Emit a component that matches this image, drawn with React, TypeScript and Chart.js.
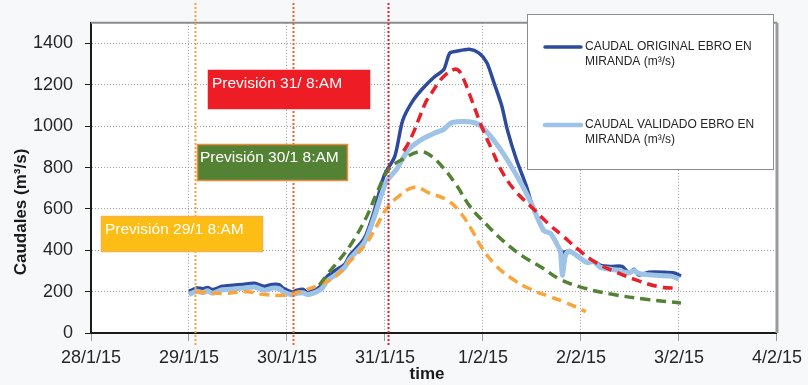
import React, { useEffect, useRef } from "react";
import { Chart, registerables } from "chart.js";

Chart.register(...registerables);

// x values are days since 28/1/15
const xTickLabels = ["28/1/15", "29/1/15", "30/1/15", "31/1/15", "1/2/15", "2/2/15", "3/2/15", "4/2/15"];
const yTicks = [0, 200, 400, 600, 800, 1000, 1200, 1400];

const originalDays = [1.0, 1.08, 1.14, 1.19, 1.24, 1.34, 1.45, 1.55, 1.67, 1.77, 1.85, 1.92, 1.96, 2.05, 2.1, 2.16, 2.21, 2.3, 2.36, 2.41, 2.5, 2.59, 2.64, 2.79, 2.89, 2.99, 3.1, 3.18, 3.28, 3.38, 3.5, 3.6, 3.66, 3.73, 3.86, 3.96, 4.04, 4.11, 4.19, 4.25, 4.34, 4.44, 4.5, 4.54, 4.62, 4.69, 4.76, 4.81, 4.88, 4.96, 5.06, 5.13, 5.2, 5.31, 5.42, 5.49, 5.54, 5.59, 5.69, 5.85, 5.95, 6.0, 6.02];
const originalValues = [202, 218, 214, 220, 210, 226, 231, 235, 240, 226, 235, 234, 217, 198, 207, 212, 197, 212, 235, 273, 305, 333, 375, 459, 590, 760, 854, 1027, 1120, 1180, 1237, 1274, 1353, 1362, 1372, 1353, 1307, 1213, 1101, 980, 840, 714, 620, 574, 495, 481, 425, 390, 397, 373, 341, 345, 327, 322, 322, 290, 308, 280, 294, 294, 290, 280, 275];

const validatedDays = [1.0, 1.08, 1.14, 1.19, 1.24, 1.34, 1.45, 1.55, 1.67, 1.77, 1.85, 1.92, 1.96, 2.05, 2.1, 2.16, 2.21, 2.3, 2.36, 2.41, 2.5, 2.59, 2.64, 2.79, 2.89, 3.01, 3.12, 3.24, 3.38, 3.52, 3.6, 3.68, 3.86, 3.96, 4.06, 4.16, 4.27, 4.4, 4.5, 4.54, 4.62, 4.69, 4.76, 4.79, 4.81, 4.84, 4.88, 4.96, 5.06, 5.13, 5.2, 5.36, 5.49, 5.54, 5.59, 5.72, 5.92, 6.0];
const validatedValues = [186, 202, 195, 204, 192, 209, 213, 217, 222, 207, 217, 215, 200, 185, 192, 195, 186, 199, 217, 252, 282, 318, 358, 438, 560, 728, 793, 887, 938, 970, 985, 1017, 1022, 1008, 961, 900, 821, 714, 620, 574, 495, 481, 425, 395, 280, 373, 397, 373, 341, 345, 317, 305, 290, 302, 288, 280, 275, 261];

const forecast29Days = [1.07, 1.34, 1.59, 1.75, 1.96, 2.06, 2.2, 2.33, 2.5, 2.64, 2.81, 2.91, 3.01, 3.12, 3.3, 3.45, 3.63, 3.76, 3.89, 3.99, 4.13, 4.3, 4.47, 4.67, 4.81, 5.05];
const forecast29Values = [200, 191, 200, 187, 182, 191, 210, 233, 275, 345, 434, 513, 597, 653, 705, 677, 644, 588, 495, 411, 327, 261, 215, 177, 154, 103];

const forecast30Days = [2.33, 2.43, 2.64, 2.81, 2.91, 3.04, 3.18, 3.35, 3.45, 3.58, 3.73, 3.87, 4.03, 4.2, 4.4, 4.6, 4.78, 5.05, 5.32, 5.66, 6.02];
const forecast30Values = [232, 294, 420, 560, 670, 793, 840, 877, 863, 807, 714, 610, 527, 448, 373, 317, 261, 215, 187, 163, 145];

const forecast31Days = [3.19, 3.23, 3.3, 3.35, 3.42, 3.47, 3.55, 3.6, 3.7, 3.75, 3.8, 3.89, 3.99, 4.09, 4.2, 4.34, 4.5, 4.67, 4.81, 4.98, 5.15, 5.36, 5.56, 5.79, 6.0];
const forecast31Values = [880, 910, 980, 1040, 1120, 1157, 1213, 1241, 1274, 1270, 1230, 1120, 994, 887, 775, 681, 607, 527, 471, 401, 341, 294, 257, 224, 215];

const forecastStartDays = [1.066, 2.06, 3.03];
const forecastLabels = ["Previsión 29/1 8:AM", "Previsión 30/1 8:AM", "Previsión 31/ 8:AM"];
const legendLabels = [["CAUDAL ORIGINAL EBRO EN", "MIRANDA (m³/s)"], ["CAUDAL VALIDADO EBRO EN", "MIRANDA (m³/s)"]];

const toPoints = (days: number[], vals: number[]) => days.map((d, i) => ({ x: d, y: vals[i] }));

const C_DARK = "#2e4a9c";
const C_LIGHT = "#9dc3e6";
const C_RED = "#e8202a";
const C_GREEN = "#548235";
const C_ORANGE = "#f9a53c";
const FONT = "'Liberation Sans', Arial, sans-serif";

const overlayPlugin = {
  id: "overlay",
  beforeDraw(chart: any) {
    const { ctx, chartArea } = chart;
    ctx.save();
    ctx.fillStyle = "#ffffff";
    ctx.fillRect(chartArea.left, chartArea.top, chartArea.right - chartArea.left, chartArea.bottom - chartArea.top);
    ctx.restore();
  },
  afterDatasetsDraw(chart: any) {
    const { ctx, chartArea, scales } = chart;
    const xs = scales.x;
    ctx.save();
    // top and right border
    ctx.strokeStyle = "#8c8c8c";
    ctx.lineWidth = 2;
    ctx.beginPath();
    ctx.moveTo(chartArea.left, chartArea.top);
    ctx.lineTo(chartArea.right, chartArea.top);
    ctx.stroke();
    ctx.strokeStyle = "#9a9a9a";
    ctx.lineWidth = 3;
    ctx.beginPath();
    ctx.moveTo(chartArea.right, chartArea.top);
    ctx.lineTo(chartArea.right, chartArea.bottom);
    ctx.stroke();

    // forecast start dotted lines
    const lineColors = ["#f7a33c", "#f2602c", "#e8202a"];
    forecastStartDays.forEach((d, i) => {
      const px = Math.round(xs.getPixelForValue(d)) + 0.5;
      ctx.strokeStyle = lineColors[i];
      ctx.lineWidth = 2;
      ctx.setLineDash([2, 2]);
      ctx.beginPath();
      ctx.moveTo(px, 3);
      ctx.lineTo(px, 346);
      ctx.stroke();
    });
    ctx.setLineDash([]);

    // annotation boxes
    const boxes = [
      { x: 101, y: 216, w: 162, h: 36, fill: "#fcbd14", border: "#f8b04c", label: forecastLabels[0], tx: 105 },
      { x: 197, y: 144, w: 151, h: 37, fill: C_GREEN, border: "#f4883a", label: forecastLabels[1], tx: 200 },
      { x: 208, y: 70, w: 162, h: 39, fill: "#ee1c25", border: "#ee1c25", label: forecastLabels[2], tx: 212 },
    ];
    ctx.font = `15.5px ${FONT}`;
    boxes.forEach((b) => {
      ctx.fillStyle = b.fill;
      ctx.fillRect(b.x, b.y, b.w, b.h);
      ctx.strokeStyle = b.border;
      ctx.lineWidth = 1.5;
      ctx.strokeRect(b.x + 0.5, b.y + 0.5, b.w - 1, b.h - 1);
      ctx.fillStyle = "#ffffff";
      ctx.textAlign = "left";
      ctx.textBaseline = "middle";
      ctx.fillText(b.label, b.tx, b.y + 14);
    });

    // legend
    ctx.fillStyle = "#ffffff";
    ctx.fillRect(527, 14, 247, 156);
    ctx.strokeStyle = "#8c8c8c";
    ctx.lineWidth = 1;
    ctx.strokeRect(527.5, 14.5, 246, 155);
    const legendItems = [
      { y: 47, color: C_DARK, width: 3.5 },
      { y: 125, color: C_LIGHT, width: 4.5 },
    ];
    ctx.font = `12px ${FONT}`;
    legendItems.forEach((it, i) => {
      ctx.strokeStyle = it.color;
      ctx.lineWidth = it.width;
      ctx.lineCap = "round";
      ctx.beginPath();
      ctx.moveTo(545, it.y);
      ctx.lineTo(581, it.y);
      ctx.stroke();
      ctx.fillStyle = "#262626";
      ctx.textAlign = "left";
      ctx.textBaseline = "middle";
      ctx.fillText(legendLabels[i][0], 585, it.y);
      ctx.fillText(legendLabels[i][1], 585, it.y + 15);
    });

    // axis titles
    ctx.fillStyle = "#1a1a1a";
    ctx.font = `bold 17px ${FONT}`;
    ctx.textAlign = "center";
    ctx.textBaseline = "middle";
    ctx.fillText("time", 427, 374);
    ctx.translate(21, 212);
    ctx.rotate(-Math.PI / 2);
    ctx.fillText("Caudales (m³/s)", 0, 0);
    ctx.restore();
  },
};

export default function App() {
  const ref = useRef<HTMLCanvasElement | null>(null);
  useEffect(() => {
    document.body.style.margin = "0";
    const canvas = ref.current!;
    const common = { pointRadius: 0, fill: false, borderCapStyle: "butt" as const };
    const chart = new Chart(canvas, {
      type: "line",
      data: {
        datasets: [
          { ...common, label: "orig", data: toPoints(originalDays, originalValues), borderColor: C_DARK, borderWidth: 3.5, tension: 0.25, order: 5 },
          { ...common, label: "valid", data: toPoints(validatedDays, validatedValues), borderColor: C_LIGHT, borderWidth: 5, tension: 0.25, order: 4 },
          { ...common, label: "p29", data: toPoints(forecast29Days, forecast29Values), borderColor: C_ORANGE, borderWidth: 3.5, borderDash: [10, 6], tension: 0.4, order: 3 },
          { ...common, label: "p30", data: toPoints(forecast30Days, forecast30Values), borderColor: C_GREEN, borderWidth: 3.5, borderDash: [10, 6], tension: 0.4, order: 2 },
          { ...common, label: "p31", data: toPoints(forecast31Days, forecast31Values), borderColor: C_RED, borderWidth: 3.5, borderDash: [10, 6], tension: 0.4, order: 1 },
        ],
      },
      options: {
        responsive: false,
        animation: false,
        layout: { padding: { top: 12, right: 28, left: 0, bottom: 0 } },
        plugins: { legend: { display: false }, tooltip: { enabled: false } },
        scales: {
          x: {
            type: "linear",
            min: 0,
            max: 7,
            afterFit: (s: any) => { s.height = 52; },
            ticks: {
              stepSize: 1,
              padding: 6,
              color: "#262626",
              font: { family: FONT, size: 18 },
              callback: (v: any) => xTickLabels[Math.round(v)] ?? "",
              maxRotation: 0,
              autoSkip: false,
            },
            grid: { color: "#9a9a9a", lineWidth: 1, tickLength: 8, tickColor: "#9a9a9a" },
            border: { color: "#1a1a1a", width: 2, dash: [1, 2] },
          },
          y: {
            min: 0,
            max: 1500,
            afterFit: (s: any) => { s.width = 91; },
            afterBuildTicks: (s: any) => { s.ticks = yTicks.map((v) => ({ value: v })); },
            ticks: {
              stepSize: 200,
              includeBounds: false,
              padding: 12,
              color: "#262626",
              font: { family: FONT, size: 18 },
              callback: (v: any) => String(v),
            },
            grid: { color: "#9a9a9a", lineWidth: 1, tickLength: 6, tickColor: "#1a1a1a" },
            border: { color: "#1a1a1a", width: 2, dash: [1, 2] },
          },
        },
      },
      plugins: [overlayPlugin],
    });
    return () => chart.destroy();
  }, []);
  return (
    <div style={{ width: 808, height: 385, background: "#f7f8fa" }}>
      <canvas ref={ref} width={808} height={385} style={{ display: "block" }} />
    </div>
  );
}
